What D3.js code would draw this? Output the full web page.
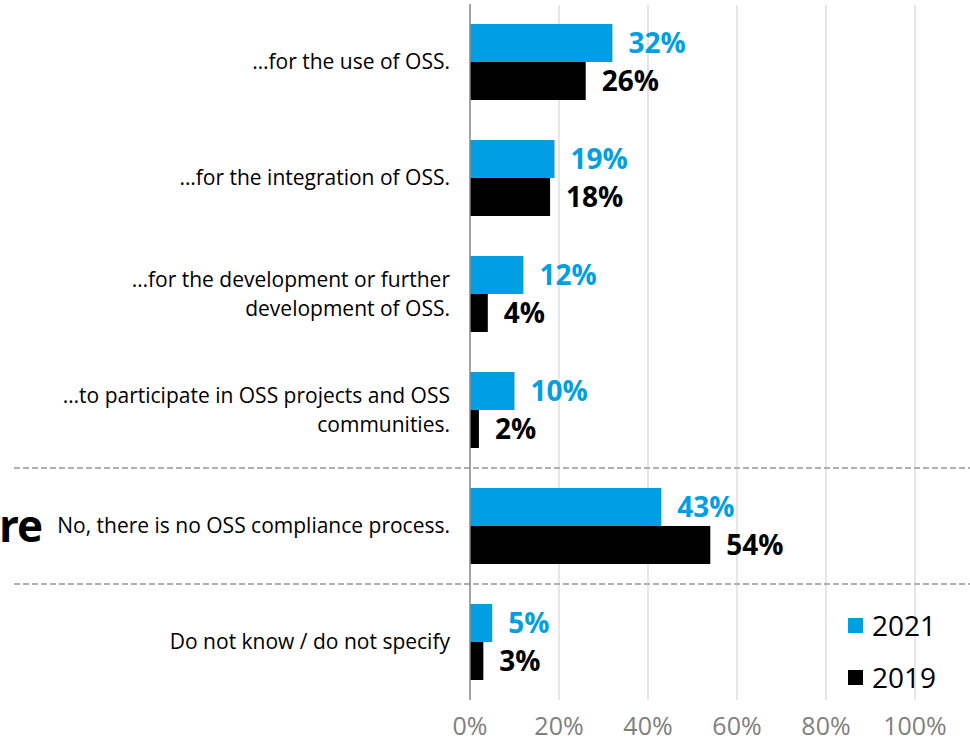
<!DOCTYPE html>
<html>
<head>
<meta charset="utf-8">
<script src="https://cdnjs.cloudflare.com/ajax/libs/d3/7.8.5/d3.min.js"></script>
<style>
body { margin: 0; background: #fff; }
svg { font-family: "Open Sans", "Noto Sans", sans-serif; }
</style>
</head>
<body>
<script>
// data
const categories = [
  ["…for the use of OSS."],
  ["…for the integration of OSS."],
  ["…for the development or further", "development of OSS."],
  ["…to participate in OSS projects and OSS", "communities."],
  ["No, there is no OSS compliance process."],
  ["Do not know / do not specify"]
]
const values2021 = [0.32, 0.19, 0.12, 0.10, 0.43, 0.05]
const values2019 = [0.26, 0.18, 0.04, 0.02, 0.54, 0.03]
const series = ["2021", "2019"]
const colors = ["#009fe3", "#000000"]
const tickValues = [0, 0.2, 0.4, 0.6, 0.8, 1]
const separatorsAfter = [3, 4]

const w = 970
const h = 742

const svg = d3.select("body").append("svg")
  .attr("width", w)
  .attr("height", h)

const x = d3.scaleLinear().domain([0, 1]).range([470, 915])
const y = d3.scaleBand()
  .domain(d3.range(categories.length))
  .range([4, 700])
  .paddingInner(0.345)
  .paddingOuter(0.1725)
const ySub = d3.scaleBand().domain(series).range([0, y.bandwidth()])

// gridlines
svg.selectAll("line.grid")
  .data(tickValues.slice(1))
  .enter().append("line")
  .attr("class", "grid")
  .attr("x1", d => x(d)).attr("x2", d => x(d))
  .attr("y1", 5).attr("y2", 700)
  .attr("stroke", "#d9d9d9")
  .attr("stroke-width", 1.3)

// tick labels
svg.selectAll("text.tick")
  .data(tickValues)
  .enter().append("text")
  .attr("class", "tick")
  .attr("x", d => x(d))
  .attr("y", 735)
  .attr("text-anchor", "middle")
  .attr("font-size", "25px")
  .attr("fill", "#808080")
  .text(d => d3.format(".0%")(d))

// dashed separators
svg.selectAll("line.sep")
  .data(separatorsAfter)
  .enter().append("line")
  .attr("class", "sep")
  .attr("x1", 14).attr("x2", w)
  .attr("y1", d => (y(d) + y.bandwidth() + y(d + 1)) / 2)
  .attr("y2", d => (y(d) + y.bandwidth() + y(d + 1)) / 2)
  .attr("stroke", "#b0b0b0")
  .attr("stroke-width", 2)
  .attr("stroke-dasharray", "6,3")

// bars
const allSeries = [values2021, values2019]
allSeries.forEach(function(vals, s) {
  svg.selectAll("rect.s" + s)
    .data(vals)
    .enter().append("rect")
    .attr("class", "s" + s)
    .attr("x", x(0))
    .attr("y", (d, i) => y(i) + ySub(series[s]))
    .attr("width", d => x(d) - x(0))
    .attr("height", ySub.bandwidth())
    .attr("fill", colors[s])

  svg.selectAll("text.v" + s)
    .data(vals)
    .enter().append("text")
    .attr("class", "v" + s)
    .attr("x", d => x(d) + 16)
    .attr("y", (d, i) => y(i) + ySub(series[s]) + ySub.bandwidth() / 2 + 10)
    .attr("font-size", "28px")
    .attr("font-weight", "bold")
    .attr("fill", colors[s])
    .text(d => d3.format(".0%")(d))
})

// axis line
svg.append("line")
  .attr("x1", x(0)).attr("x2", x(0))
  .attr("y1", 4).attr("y2", 700)
  .attr("stroke", "#868686")
  .attr("stroke-width", 1.5)

// category labels
const lab = svg.selectAll("text.cat")
  .data(categories)
  .enter().append("text")
  .attr("class", "cat")
  .attr("text-anchor", "end")
  .attr("font-size", "21px")
  .attr("fill", "#000")
  .attr("y", (d, i) => y(i) + y.bandwidth() / 2 + 7 - (d.length - 1) * 14)
lab.selectAll("tspan")
  .data(d => d)
  .enter().append("tspan")
  .attr("x", 450)
  .attr("dy", (d, i) => i ? 29 : 0)
  .text(d => d)

// clipped title remnant
svg.append("text")
  .attr("x", 41)
  .attr("y", y(4) + y.bandwidth() / 2 + 16)
  .attr("text-anchor", "end")
  .attr("font-size", "44px")
  .attr("font-weight", "bold")
  .attr("letter-spacing", "-2px")
  .attr("fill", "#000")
  .text("re")

// legend
const legend = svg.selectAll("g.legend")
  .data(series)
  .enter().append("g")
  .attr("class", "legend")
  .attr("transform", (d, i) => "translate(848," + (618 + i * 52) + ")")
legend.append("rect")
  .attr("width", 15).attr("height", 15)
  .attr("fill", (d, i) => colors[i])
legend.append("text")
  .attr("x", 24).attr("y", 18)
  .attr("font-size", "28px")
  .attr("fill", "#000")
  .text(d => d)
</script>
</body>
</html>
